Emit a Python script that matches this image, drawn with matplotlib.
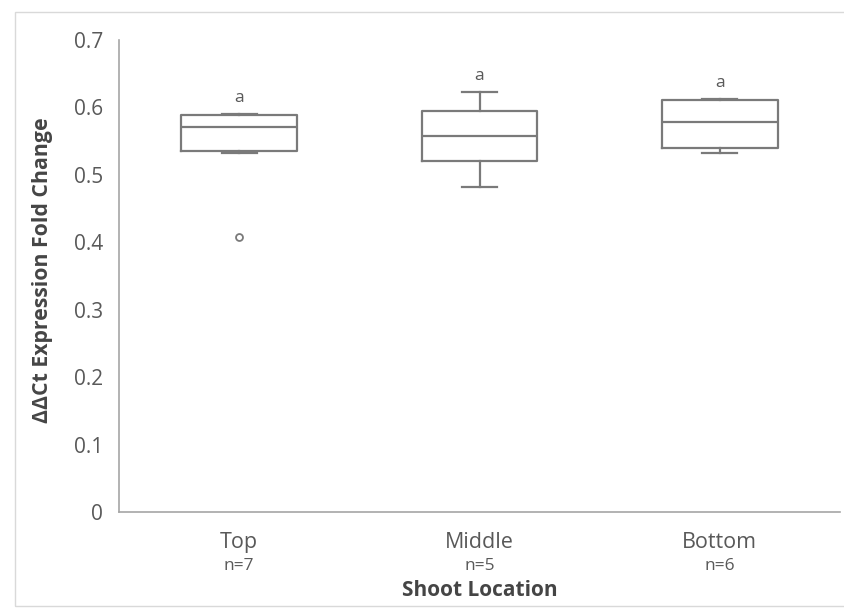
import matplotlib
matplotlib.use("Agg")
import matplotlib.pyplot as plt
from matplotlib.patches import Rectangle

categories = ["Top", "Middle", "Bottom"]
n_labels = ["n=7", "n=5", "n=6"]
q1 = [0.535, 0.521, 0.540]
med = [0.571, 0.557, 0.579]
q3 = [0.589, 0.594, 0.611]
whislo = [0.533, 0.482, 0.532]
whishi = [0.590, 0.623, 0.612]
fliers = [[0.408], [], []]
letters = ["a", "a", "a"]
yticks = [0, 0.1, 0.2, 0.3, 0.4, 0.5, 0.6, 0.7]
ytick_labels = ["0", "0.1", "0.2", "0.3", "0.4", "0.5", "0.6", "0.7"]

plt.rcParams['font.family'] = ['Open Sans', 'DejaVu Sans']
gray = "#595959"
dark = "#454545"
line = "#7a7a7a"

fig = plt.figure(figsize=(8.44, 6.09), dpi=100)
fig.patches.append(Rectangle((15/844, 3/609), 1.0, 594/609, transform=fig.transFigure,
                             fill=False, edgecolor="#d9d9d9", linewidth=1.0))
ax = fig.add_axes([119/844, (609-512)/609, (840-119)/844, (512-40)/609])

positions = [1, 2, 3]
stats = []
for i in range(3):
    stats.append(dict(med=med[i], q1=q1[i], q3=q3[i], whislo=whislo[i],
                      whishi=whishi[i], fliers=fliers[i], label=categories[i]))
ax.bxp(stats, positions=positions, widths=0.48, showfliers=True,
       boxprops=dict(color=line, linewidth=1.6),
       medianprops=dict(color=line, linewidth=1.6),
       whiskerprops=dict(color=line, linewidth=1.6),
       capprops=dict(color=line, linewidth=1.6),
       capwidths=0.145,
       flierprops=dict(marker='o', markersize=5, markerfacecolor='white',
                       markeredgecolor=line, markeredgewidth=1.3))

for i in range(3):
    ax.text(positions[i], whishi[i] + 0.012, letters[i], ha='center', va='bottom',
            fontsize=12.5, color=gray)

ax.set_xlim(0.5, 3.5)
ax.set_ylim(0, 0.7)
ax.set_yticks(yticks)
ax.set_yticklabels(ytick_labels, fontsize=15, color=gray)
ax.tick_params(axis='y', length=0, pad=11.5)
ax.set_xticks(positions)
ax.set_xticklabels([])
ax.tick_params(axis='x', length=0)
for i in range(3):
    ax.text(positions[i], -0.030, categories[i], ha='center', va='top', fontsize=15.5, color=gray)
    ax.text(positions[i], -0.068, n_labels[i], ha='center', va='top', fontsize=12.5, color=gray)
ax.text(2, -0.101, "Shoot Location", ha='center', va='top', fontsize=15, fontweight='bold',
        color=dark)
fig.text(43/844, (609-270)/609, "ΔΔCt Expression Fold Change", rotation=90, ha='center',
         va='center', fontsize=15.3, fontweight='bold', color=dark)

for s in ['top', 'right']:
    ax.spines[s].set_visible(False)
ax.spines['left'].set_color("#a6a6a6")
ax.spines['bottom'].set_color("#a6a6a6")
ax.spines['left'].set_linewidth(1.2)
ax.spines['bottom'].set_linewidth(1.2)

fig.savefig("out.png", dpi=100)
